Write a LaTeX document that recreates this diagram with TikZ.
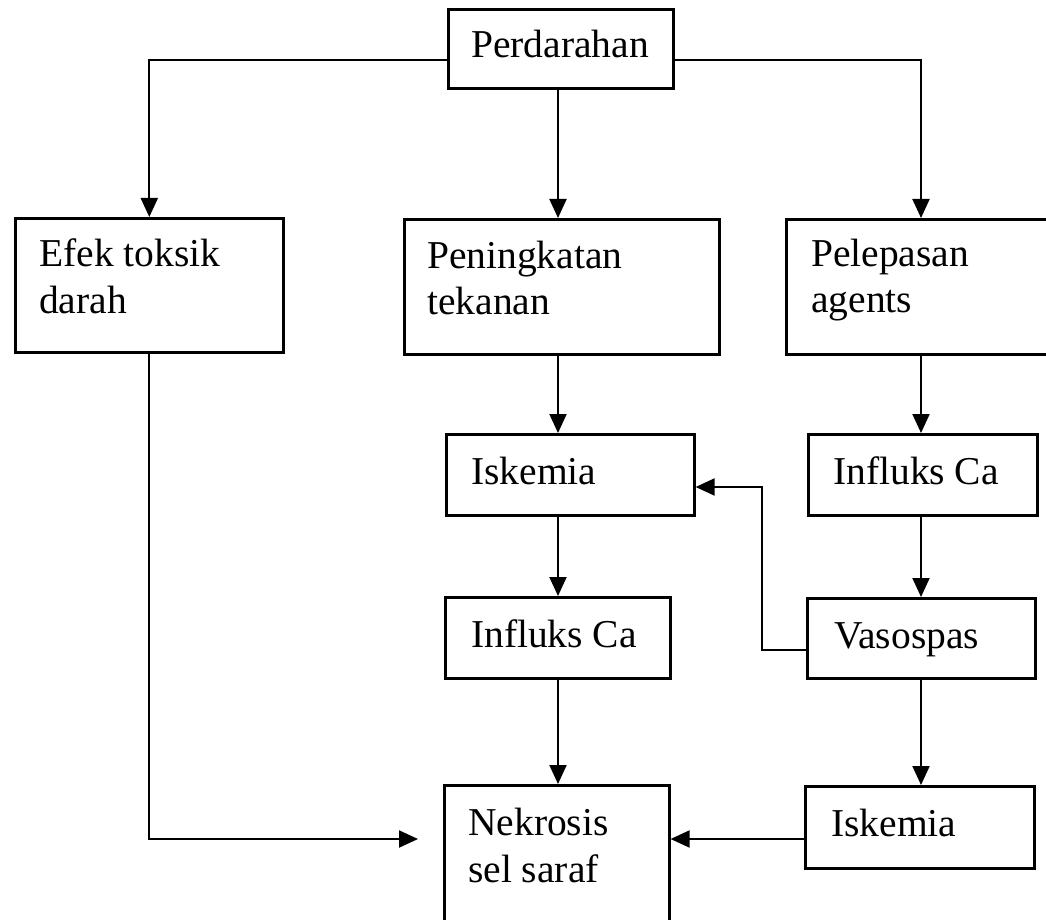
\documentclass[tikz,border=0pt]{standalone}
\usepackage{fontspec}
\setmainfont{Liberation Serif}
\usetikzlibrary{arrows.meta,calc}
\begin{document}
\begin{tikzpicture}[x=1pt,y=-1pt,
  box/.style={draw, line width=2.6pt, inner sep=0pt, anchor=north west},
  lbl/.style={anchor=base west, inner sep=0pt, font=\fontsize{39.5}{47}\selectfont},
  conn/.style={line width=2pt, -{Triangle[length=19pt,width=17pt]}}]
\useasboundingbox (0,0) rectangle (1046,920);
\begin{scope}
\clip (0,0) rectangle (1046,920);
\fill[white] (0,0) rectangle (1046,920);
% boxes
\node[box, minimum width=225pt, minimum height=79pt]  (perd) at (447,8) {};
\node[box, minimum width=268pt, minimum height=134pt] (efek) at (14,217) {};
\node[box, minimum width=315pt, minimum height=135pt] (pen)  at (403,218) {};
\node[box, minimum width=274pt, minimum height=135pt] (pel)  at (785,218) {};
\node[box, minimum width=248pt, minimum height=81pt]  (isk)  at (445,433) {};
\node[box, minimum width=229pt, minimum height=81pt]  (infR) at (807,433) {};
\node[box, minimum width=225pt, minimum height=81pt]  (infL) at (444,596) {};
\node[box, minimum width=228pt, minimum height=80pt]  (vaso) at (806,597) {};
\node[box, minimum width=229pt, minimum height=82pt]  (isk2) at (804,785) {};
\node[box, minimum width=225pt, minimum height=170pt] (nek)  at (443,784) {};
% texts
\node[lbl] (tperd) at (471,58) {Perdarahan};
\node[lbl] (tefek1) at (39,266) {Efek toksik};
\node[lbl] (tefek2) at (39,313) {darah};
\node[lbl] (tpen1) at (427,268) {Peningkatan};
\node[lbl] (tpen2) at (427,314) {tekanan};
\node[lbl] (tpel1) at (811,266) {Pelepasan};
\node[lbl] (tpel2) at (811,312) {agents};
\node[lbl] (tisk) at (471,484) {Iskemia};
\node[lbl] (tinfR) at (833,484) {Influks Ca};
\node[lbl] (tinfL) at (471,647) {Influks Ca};
\node[lbl] (tvaso) at (834,648) {Vasospas};
\node[lbl] (tisk2) at (831,836) {Iskemia};
\node[lbl] (tnek1) at (468,835) {Nekrosis};
\node[lbl] (tnek2) at (468,882) {sel saraf};
% helper coordinates
\coordinate (ytop) at (0,60);
\coordinate (xM) at (558,0);
\coordinate (xR) at (921,0);
\coordinate (tipNek) at (418,839);
\coordinate (vb) at (762,650);
\coordinate (vt) at (762,487);
% connectors
\draw[conn] (perd.west |- ytop) -| (efek.north);
\draw[conn] (perd.east |- ytop) -| (pel.north -| xR);
\draw[conn] (perd.south -| xM) -- (pen.north -| xM);
\draw[conn] (pen.south -| xM) -- (isk.north -| xM);
\draw[conn] (isk.south -| xM) -- (infL.north -| xM);
\draw[conn] (infL.south -| xM) -- (nek.north -| xM);
\draw[conn] (pel.south -| xR) -- (infR.north -| xR);
\draw[conn] (infR.south -| xR) -- (vaso.north -| xR);
\draw[conn] (vaso.south -| xR) -- (isk2.north -| xR);
\draw[conn] (efek.south) |- (tipNek);
\draw[conn] (isk2.west |- tipNek) -- (nek.east |- tipNek);
\draw[conn] (vaso.west |- vb) -- (vb) -- (vt) -- (isk.east |- vt);
\end{scope}
\end{tikzpicture}
\end{document}
